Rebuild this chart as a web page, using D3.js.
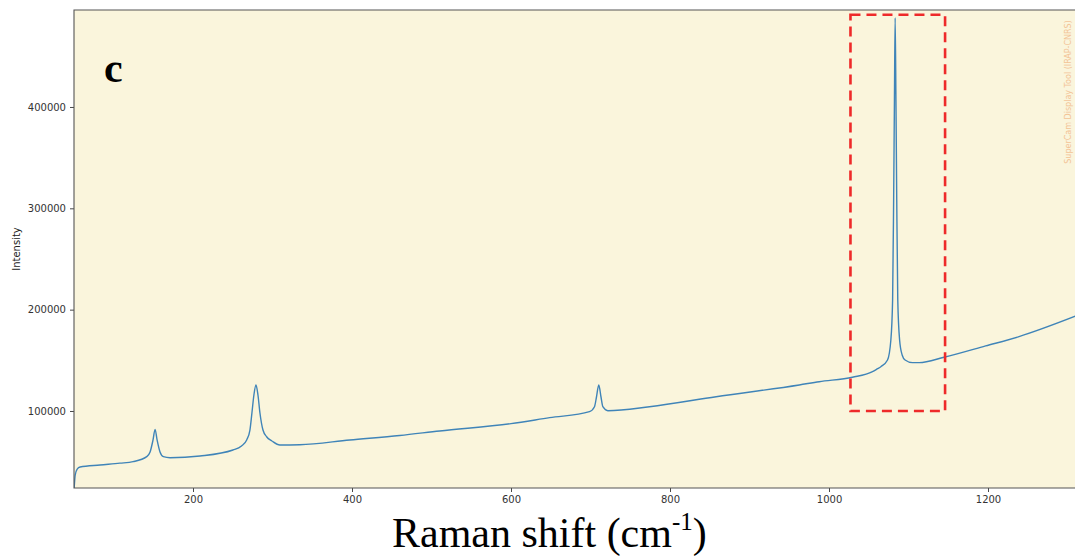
<!DOCTYPE html>
<html>
<head>
<meta charset="utf-8">
<script src="https://cdn.jsdelivr.net/npm/d3@7"></script>
<style>
  html, body { margin: 0; padding: 0; background: #ffffff; }
  svg { display: block; }
</style>
</head>
<body>
<svg id="chart" width="1075" height="557"></svg>
<script>
// ---- Data ----
const ramanShift = [50.5, 51.8, 54.3, 58, 83, 108, 124.6, 141.8, 146, 149.7, 152.3, 154.8, 158.5, 162.7, 171.1, 208.8, 250.3, 261, 267.5, 271.6, 274.1, 276.6, 279.2, 281.7, 284.2, 288, 292.6, 299.3, 309.3, 334.4, 397.2, 460, 510.3, 600, 648.5, 698.7, 705, 707.5, 710.4, 713.2, 715.5, 721.8, 774.2, 858, 962.6, 987.7, 1029.5, 1054.7, 1060.6, 1065.2, 1073.6, 1077.8, 1080, 1081.3, 1082.3, 1083.2, 1084.2, 1085.2, 1086.5, 1088.8, 1092, 1095.7, 1105, 1113.3, 1144.7, 1197, 1239, 1313];
const intensity  = [24000, 36800, 42700, 44700, 46700, 48500, 50000, 54900, 59500, 71400, 81900, 71400, 59500, 54900, 53900, 55600, 61500, 65500, 71400, 81200, 98000, 115800, 125700, 115800, 98000, 81200, 74600, 70400, 66400, 66700, 71400, 75800, 80300, 87500, 93400, 99300, 104200, 113800, 125700, 113800, 104200, 100300, 104200, 114100, 125700, 128900, 133300, 138800, 141500, 143700, 150300, 170100, 209600, 308300, 407000, 488000, 407000, 308300, 209600, 170100, 155300, 150300, 147700, 147700, 153000, 164200, 173400, 194500];

const xTicks = [200, 400, 600, 800, 1000, 1200];
const yTicks = [100000, 200000, 300000, 400000];
const xDomain = [50.3, 1313.2];
const yDomain = [24000, 495700];
// highlighted region (red dashed box), in data units
const boxShift = [1027, 1146];
const boxIntensity = [100000, 491000];

const panelLabel = "c";
const xTitle = "Raman shift (cm";
const xTitleSup = "-1";
const yTitle = "Intensity";
const watermark = "SuperCam Display Tool (IRAP-CNRS)";

// ---- Layout ----
const svg = d3.select("#chart");
const mLeft = 74, mRight = 1078, mTop = 10, mBottom = 488;

const x = d3.scaleLinear().domain(xDomain).range([mLeft, mRight]);
const y = d3.scaleLinear().domain(yDomain).range([mBottom, mTop]);

svg.append("defs").append("clipPath").attr("id", "clip")
  .append("rect").attr("x", mLeft).attr("y", mTop).attr("width", mRight - mLeft).attr("height", mBottom - mTop);

svg.append("rect").attr("x", mLeft).attr("y", mTop).attr("width", mRight - mLeft).attr("height", mBottom - mTop)
  .attr("fill", "#faf5dc");

svg.append("text")
  .attr("transform", `translate(1071,92) rotate(-90)`)
  .attr("text-anchor", "middle")
  .attr("font-family", "DejaVu Sans, sans-serif")
  .attr("font-size", 8)
  .attr("fill", "#f3c496")
  .text(watermark);

const pts = ramanShift.map((s, i) => [s, intensity[i]]);
const line = d3.line().x(d => x(d[0])).y(d => y(d[1])).curve(d3.curveMonotoneX);
svg.append("path").datum(pts)
  .attr("clip-path", "url(#clip)")
  .attr("d", line)
  .attr("fill", "none")
  .attr("stroke", "#3f84b8")
  .attr("stroke-width", 1.4)
  .attr("stroke-linejoin", "round");

svg.append("rect")
  .attr("x", x(boxShift[0])).attr("y", y(boxIntensity[1]))
  .attr("width", x(boxShift[1]) - x(boxShift[0]))
  .attr("height", y(boxIntensity[0]) - y(boxIntensity[1]))
  .attr("fill", "none")
  .attr("stroke", "#ee2a2a")
  .attr("stroke-width", 2.6)
  .attr("stroke-dasharray", "10,6");

const xAxis = d3.axisBottom(x).tickValues(xTicks).tickSize(4).tickPadding(4).tickFormat(d3.format("d"));
const yAxis = d3.axisLeft(y).tickValues(yTicks).tickSize(4).tickPadding(4).tickFormat(d3.format("d"));

const gx = svg.append("g").attr("transform", `translate(0,${mBottom})`).call(xAxis);
const gy = svg.append("g").attr("transform", `translate(${mLeft},0)`).call(yAxis);
[gx, gy].forEach(g => {
  g.select(".domain").remove();
  g.selectAll(".tick line").attr("stroke", "#333").attr("stroke-width", 0.9);
  g.selectAll(".tick text").attr("fill", "#333").attr("font-family", "DejaVu Sans, sans-serif").attr("font-size", 10);
});

svg.append("path")
  .attr("d", `M${mRight},${mTop} H${mLeft} V${mBottom} H${mRight}`)
  .attr("fill", "none").attr("stroke", "#555").attr("stroke-width", 1.1);

svg.append("text")
  .attr("transform", `translate(20,249) rotate(-90)`)
  .attr("text-anchor", "middle")
  .attr("font-family", "DejaVu Sans, sans-serif")
  .attr("font-size", 10)
  .attr("fill", "#222")
  .text(yTitle);

svg.append("text")
  .attr("x", 104).attr("y", 82)
  .attr("font-family", "Liberation Serif, Times New Roman, serif")
  .attr("font-weight", "bold")
  .attr("font-size", 42)
  .attr("fill", "#000")
  .text(panelLabel);

const t = svg.append("text")
  .attr("x", 392).attr("y", 547)
  .attr("font-family", "Liberation Serif, Times New Roman, serif")
  .attr("font-size", 42)
  .attr("fill", "#000");
t.append("tspan").text(xTitle);
t.append("tspan").attr("font-size", 25).attr("dy", -17).text(xTitleSup);
t.append("tspan").attr("dy", 17).text(")");
</script>
</body>
</html>
